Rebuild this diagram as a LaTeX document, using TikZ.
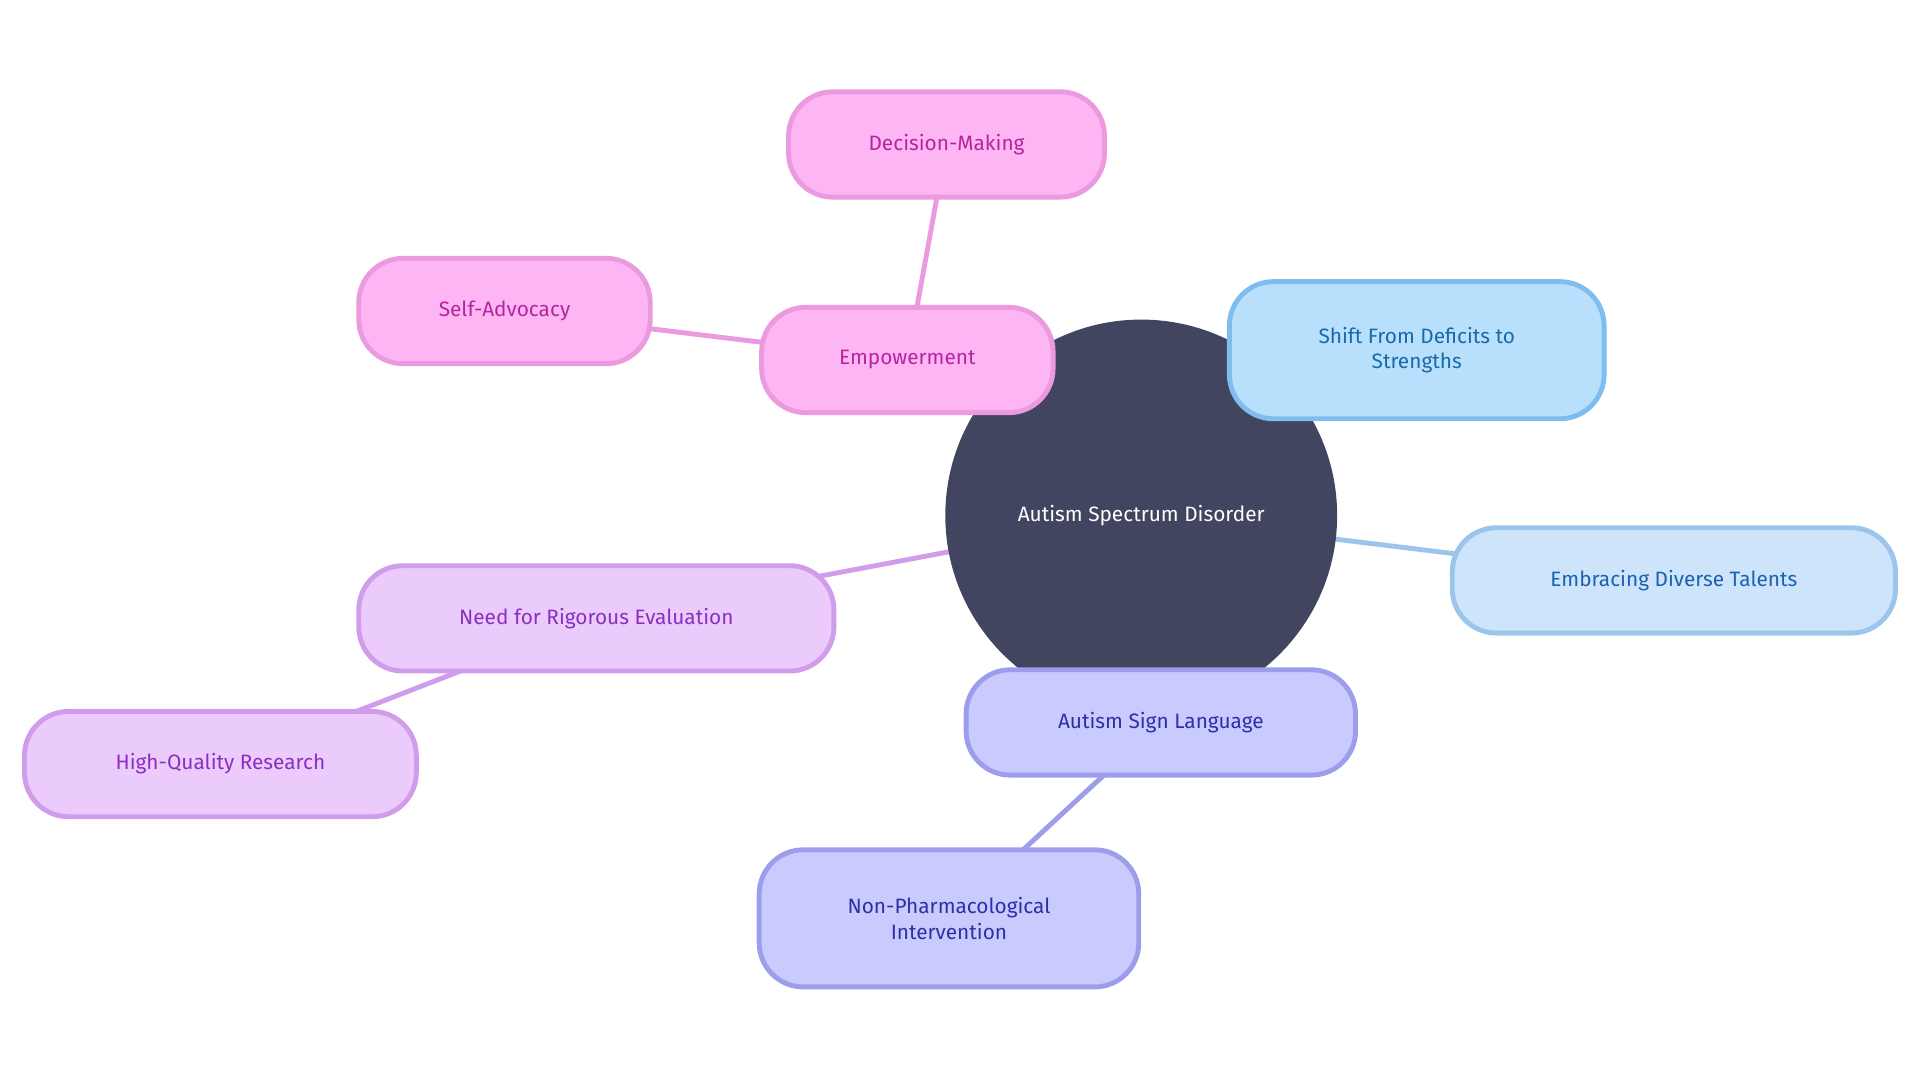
\documentclass[tikz,border=0pt]{standalone}
\usepackage{fontspec}
\setmainfont{Fira Sans}
\usetikzlibrary{backgrounds}
\definecolor{cen}{HTML}{414560}
\definecolor{pkF}{HTML}{FDB6F3}\definecolor{pkD}{HTML}{EC9AE0}\definecolor{pkT}{HTML}{B5259F}
\definecolor{blF}{HTML}{B8E0FC}\definecolor{blD}{HTML}{7FBDEE}\definecolor{blT}{HTML}{1A6AA9}
\definecolor{lbF}{HTML}{CDE4FB}\definecolor{lbD}{HTML}{9CC5EC}\definecolor{lbT}{HTML}{1B62B0}
\definecolor{inF}{HTML}{C9CAFE}\definecolor{inD}{HTML}{9C9EEC}\definecolor{inT}{HTML}{2F2FA8}
\definecolor{vF}{HTML}{EBCBFC}\definecolor{vD}{HTML}{D09CEC}\definecolor{vT}{HTML}{8A2FC0}
\begin{document}
\begin{tikzpicture}[x=1pt,y=-1pt,
 box/.style={rounded corners=36pt,line width=4pt,align=center,font=\fontsize{17}{21}\selectfont,inner sep=0pt},
 pk/.style={box,fill=pkF,draw=pkD,text=pkT},
 bl/.style={box,fill=blF,draw=blD,text=blT},
 lb/.style={box,fill=lbF,draw=lbD,text=lbT},
 ig/.style={box,fill=inF,draw=inD,text=inT},
 vi/.style={box,fill=vF,draw=vD,text=vT},
 ed/.style={line width=4pt}]
\useasboundingbox (0,0) rectangle (1568,882);
\node[circle,fill=cen,minimum size=320pt,text=white,font=\fontsize{17}{21}\selectfont] (c) at (932,421) {Autism Spectrum Disorder};
\node[pk,minimum width=258pt,minimum height=86pt] (dm) at (773,118) {Decision-Making};
\node[pk,minimum width=238pt,minimum height=86pt] (sa) at (412,254) {Self-Advocacy};
\node[pk,minimum width=238pt,minimum height=86pt] (em) at (741,294) {Empowerment};
\node[bl,minimum width=306pt,minimum height=112pt] (sh) at (1157,286) {Shift From Deficits to\\Strengths};
\node[lb,minimum width=362pt,minimum height=86pt] (eb) at (1367,474) {Embracing Diverse Talents};
\node[ig,minimum width=318pt,minimum height=86pt] (sl) at (948,590) {Autism Sign Language};
\node[ig,minimum width=310pt,minimum height=112pt] (np) at (775,750) {Non-Pharmacological\\Intervention};
\node[vi,minimum width=388pt,minimum height=86pt] (nr) at (487,505) {Need for Rigorous Evaluation};
\node[vi,minimum width=320pt,minimum height=86pt] (hq) at (180,624) {High-Quality Research};
\begin{scope}[on background layer]
\draw[ed,pkD] (c.center) -- (em.center) (em.center) -- (dm.center) (em.center) -- (sa.center);
\draw[ed,blD] (c.center) -- (sh.center);
\draw[ed,lbD] (c.center) -- (eb.center);
\draw[ed,inD] (c.center) -- (sl.center) (sl.center) -- (np.center);
\draw[ed,vD] (c.center) -- (nr.center) (nr.center) -- (hq.center);
\end{scope}
\end{tikzpicture}
\end{document}
